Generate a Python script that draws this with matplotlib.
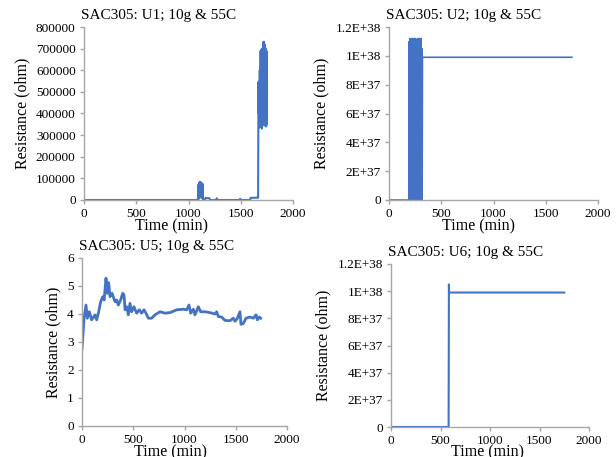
import numpy as np
import matplotlib
matplotlib.use("Agg")
import matplotlib.pyplot as plt

plt.rcParams['font.family'] = ['Liberation Serif', 'DejaVu Serif']

BLUE = '#4472C4'
GRAY = '#A6A6A6'

# ---- U1 : resistance (ohm) vs time (min)
u1_t = [0, 200, 400, 600, 800, 1000, 1090, 1094, 1098, 1102, 1106, 1110, 1114, 1118,
        1122, 1126, 1130, 1134, 1138, 1142, 1158, 1162, 1180, 1200, 1206, 1266, 1270,
        1276, 1490, 1494, 1498, 1590, 1594, 1620, 1660, 1666, 1668, 1670, 1672, 1674,
        1678, 1682, 1686, 1690, 1694, 1698, 1702, 1706, 1710, 1714, 1718, 1722, 1726,
        1730, 1734, 1738, 1742, 1746, 1750]
u1_r = [0, 0, 0, 0, 0, 0, 0, 70000, 5000, 80000, 10000, 84000, 20000, 82000,
        15000, 78000, 8000, 75000, 5000, 0, 0, 9000, 9000, 8000, 0, 0, 8000,
        0, 0, 6000, 0, 0, 10000, 10000, 11000, 10000, 300000, 547000, 400000, 540000,
        335000, 600000, 340000, 690000, 345000, 695000, 330000, 700000, 350000, 730000,
        360000, 732000, 345000, 720000, 350000, 700000, 340000, 690000, 350000]

# ---- U2
u2_t = [0, 190, 194, 197, 200, 203, 206, 209, 212, 215, 218, 221, 224, 227, 230, 233,
        236, 239, 242, 245, 248, 251, 254, 257, 260, 263, 266, 269, 272, 275, 278,
        281, 284, 287, 290, 293, 296, 299, 302, 305, 308, 311, 314, 317, 320, 1750]
u2_r = [0, 0, 1.10e38, 0, 1.12e38, 0, 1.11e38, 0, 1.12e38, 0, 1.10e38, 0, 1.12e38, 0,
        1.02e38, 0, 1.11e38, 0, 1.12e38, 0, 1.10e38, 0, 1.12e38, 0, 1.11e38, 0,
        1.03e38, 0, 1.11e38, 0, 1.12e38, 0, 1.10e38, 0, 1.12e38, 0, 1.11e38, 0,
        1.10e38, 0, 1.12e38, 0, 1.05e38, 0, 0.99e38, 0.99e38]

# ---- U5
u5_t = [0, 6, 20, 39, 52, 72, 94, 127, 143, 160, 182, 203, 216, 234, 247, 260, 273,
        293, 322, 338, 354, 377, 397, 410, 420, 436, 452, 468, 484, 507, 533, 559,
        582, 605, 624, 647, 680, 712, 761, 810, 859, 924, 989, 1021, 1044, 1060,
        1086, 1102, 1135, 1158, 1200, 1249, 1298, 1314, 1330, 1363, 1395, 1444,
        1476, 1493, 1516, 1541, 1551, 1574, 1600, 1639, 1672, 1698, 1711, 1730, 1743]
u5_r = [2.75, 3.05, 3.85, 4.32, 3.85, 4.08, 3.79, 3.97, 3.79, 4.03, 4.44, 4.62, 4.50,
        5.28, 4.74, 5.12, 4.62, 4.74, 4.44, 4.50, 4.32, 4.50, 4.74, 4.68, 4.15, 4.26,
        3.97, 4.38, 4.08, 4.26, 4.03, 4.15, 4.03, 4.15, 4.03, 3.85, 3.85, 3.97, 4.08,
        4.03, 4.05, 4.15, 4.17, 4.15, 4.32, 4.03, 4.17, 3.97, 4.26, 4.08, 4.08, 4.05,
        4.00, 4.08, 3.91, 3.89, 3.77, 3.76, 3.85, 3.74, 3.85, 4.08, 3.63, 3.66, 3.85,
        3.89, 3.85, 3.97, 3.79, 3.89, 3.85]

# ---- U6
u6_t = [0, 582, 585, 586, 1750]
u6_r = [0, 0, 1.05e38, 0.99e38, 0.99e38]

x_ticks = [0, 500, 1000, 1500, 2000]
big_ticks = [0, 2e37, 4e37, 6e37, 8e37, 1e38, 1.2e38]
big_labels = ['0', '2E+37', '4E+37', '6E+37', '8E+37', '1E+38', '1.2E+38']
u1_ticks = [0, 100000, 200000, 300000, 400000, 500000, 600000, 700000, 800000]
u5_ticks = [0, 1, 2, 3, 4, 5, 6]

W, H = 616, 457
fig = plt.figure(figsize=(W / 100, H / 100), dpi=100)


def rect(l, r, t, b):
    return [l / W, 1 - b / H, (r - l) / W, (b - t) / H]


def style(ax, title, xlab_x, xlab_y):
    for s in ['top', 'right']:
        ax.spines[s].set_visible(False)
    for s in ['left', 'bottom']:
        ax.spines[s].set_color(GRAY)
        ax.spines[s].set_linewidth(1.0)
    ax.tick_params(axis='both', colors=GRAY, labelcolor='black', labelsize=9.5,
                   direction='out', length=3, width=1.0, pad=3)
    ax.set_xlim(0, 2000)
    ax.set_xticks(x_ticks)
    ax.set_xlabel('Time (min)', fontsize=11.5)
    ax.xaxis.set_label_coords(xlab_x, xlab_y)
    ax.set_ylabel('Resistance (ohm)', fontsize=11.5)
    ax.text(-0.015, 1.03, title, transform=ax.transAxes, ha='left', va='bottom',
            fontsize=11)


ax1 = fig.add_axes(rect(84, 293, 27, 200))
ax1.plot(u1_t, u1_r, color=BLUE, lw=1.5)
ax1.set_ylim(0, 800000)
ax1.set_yticks(u1_ticks)
ax1.set_yticklabels([str(v) for v in u1_ticks])
style(ax1, 'SAC305: U1; 10g & 55C', 0.42, -0.108)

ax2 = fig.add_axes(rect(389, 598, 27, 200))
ax2.plot(u2_t, u2_r, color=BLUE, lw=1.2)
ax2.set_ylim(0, 1.2e38)
ax2.set_yticks(big_ticks)
ax2.set_yticklabels(big_labels)
style(ax2, 'SAC305: U2; 10g & 55C', 0.43, -0.108)

ax3 = fig.add_axes(rect(82, 287, 258, 426))
ax3.plot(u5_t, u5_r, color=BLUE, lw=2.0)
ax3.set_ylim(0, 6)
ax3.set_yticks(u5_ticks)
style(ax3, 'SAC305: U5; 10g & 55C', 0.43, -0.112)

ax4 = fig.add_axes(rect(391, 589, 264, 427))
ax4.plot(u6_t, u6_r, color=BLUE, lw=1.5)
ax4.set_ylim(0, 1.2e38)
ax4.set_yticks(big_ticks)
ax4.set_yticklabels(big_labels)
style(ax4, 'SAC305: U6; 10g & 55C', 0.485, -0.105)

fig.savefig('out.png', dpi=100)
